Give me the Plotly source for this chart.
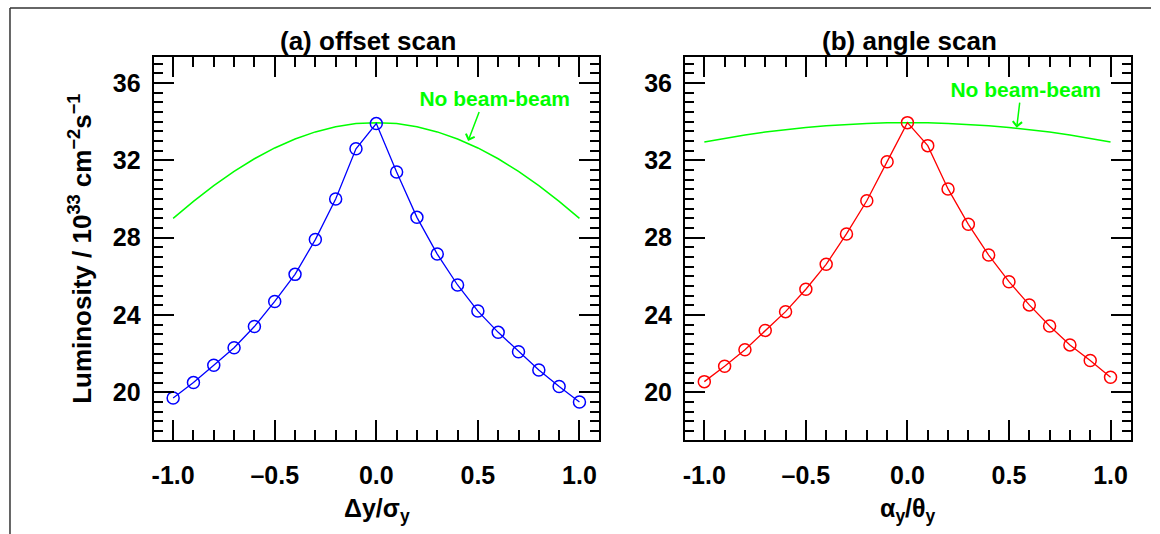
import plotly.graph_objects as go

# ---------------- data ----------------
scan_x = [-1.0, -0.9, -0.8, -0.7, -0.6, -0.5, -0.4, -0.3, -0.2, -0.1, 0.0,
          0.1, 0.2, 0.3, 0.4, 0.5, 0.6, 0.7, 0.8, 0.9, 1.0]

offset_lumi = [19.7, 20.5, 21.4, 22.3, 23.4, 24.7, 26.1, 27.9, 30.0, 32.6, 33.9,
               31.4, 29.05, 27.15, 25.55, 24.2, 23.1, 22.1, 21.15, 20.3, 19.5]
offset_nobb = [29.0, 29.88, 30.69, 31.43, 32.08, 32.64, 33.10, 33.47, 33.74, 33.90, 33.95,
               33.90, 33.74, 33.47, 33.10, 32.64, 32.08, 31.43, 30.69, 29.88, 29.0]

angle_lumi = [20.55, 21.35, 22.2, 23.2, 24.17, 25.33, 26.62, 28.19, 29.91, 31.93, 33.95,
              32.76, 30.52, 28.69, 27.1, 25.72, 24.52, 23.43, 22.45, 21.64, 20.78]
angle_nobb = [32.95, 33.14, 33.31, 33.46, 33.59, 33.70, 33.79, 33.86, 33.91, 33.94, 33.95,
              33.94, 33.91, 33.86, 33.79, 33.70, 33.59, 33.46, 33.31, 33.14, 32.95]

x_tickvals = [-1.0, -0.5, 0.0, 0.5, 1.0]
x_ticktext = ["-1.0", "\u20130.5", "0.0", "0.5", "1.0"]
y_label_vals = [20, 24, 28, 32, 36]          # labelled long ticks
y_unlabeled_vals = [18, 22, 26, 30, 34]      # long ticks without labels

panel_titles = ["(a) offset scan", "(b) angle scan"]
x_titles = ["\u0394y/\u03c3<sub>y</sub>", "\u03b1<sub>y</sub>/\u03b8<sub>y</sub>"]
y_title = "Luminosity / 10<sup>33</sup> cm<sup>\u22122</sup>s<sup>\u22121</sup>"
note_text = "No beam-beam"

# ---------------- figure ----------------
W, H = 1160, 534
FONT = "Liberation Sans, Arial, sans-serif"
BLUE, RED, GREEN = "#0000ff", "#ff0000", "#00ff00"
Y_RANGE = [17.53, 37.33]

fig = go.Figure()

fig.add_trace(go.Scatter(x=scan_x, y=offset_nobb, mode="lines", line=dict(color=GREEN, width=1.5),
                         xaxis="x", yaxis="y", showlegend=False))
fig.add_trace(go.Scatter(x=scan_x, y=offset_lumi, mode="lines+markers", line=dict(color=BLUE, width=1.3),
                         marker=dict(symbol="circle-open", size=12, color=BLUE, line=dict(width=1.5)),
                         xaxis="x", yaxis="y", showlegend=False))
fig.add_trace(go.Scatter(x=scan_x, y=angle_nobb, mode="lines", line=dict(color=GREEN, width=1.5),
                         xaxis="x2", yaxis="y2", showlegend=False))
fig.add_trace(go.Scatter(x=scan_x, y=angle_lumi, mode="lines+markers", line=dict(color=RED, width=1.3),
                         marker=dict(symbol="circle-open", size=12, color=RED, line=dict(width=1.5)),
                         xaxis="x2", yaxis="y2", showlegend=False))

tickfont = dict(family=FONT, size=25, color="black", weight="bold")


def xaxis_cfg(domain, rng, anchor):
    return dict(domain=domain, range=rng, anchor=anchor, showgrid=False, zeroline=False,
                showline=True, linecolor="black", linewidth=2, mirror="ticks",
                ticks="inside", ticklen=20, tickwidth=1.6, tickcolor="black",
                tickmode="array", tickvals=x_tickvals, ticktext=x_ticktext,
                tickfont=tickfont, ticklabelstandoff=12,
                minor=dict(tickmode="linear", tick0=0, dtick=0.1, ticks="inside", ticklen=10,
                           tickwidth=1.6, tickcolor="black"))


def yaxis_cfg(domain, anchor):
    return dict(domain=domain, range=Y_RANGE, anchor=anchor, showgrid=False, zeroline=False,
                showline=True, linecolor="black", linewidth=2, mirror="ticks",
                ticks="inside", ticklen=20, tickwidth=1.6, tickcolor="black",
                tickmode="array", tickvals=y_label_vals,
                tickfont=tickfont, ticklabelstandoff=6,
                minor=dict(tickmode="linear", tick0=0, dtick=0.5, ticks="inside", ticklen=9,
                           tickwidth=1.6, tickcolor="black"))


def yaxis_overlay_cfg(over, anchor):
    return dict(overlaying=over, anchor=anchor, side="left", range=Y_RANGE,
                showgrid=False, zeroline=False, showline=False, mirror="ticks",
                ticks="inside", ticklen=20, tickwidth=1.6, tickcolor="black",
                tickmode="array", tickvals=y_unlabeled_vals, showticklabels=False)


ydom = [1 - 440 / H, 1 - 57.3 / H]
fig.update_layout(
    width=W, height=H, autosize=False,
    margin=dict(l=0, r=0, t=0, b=0),
    paper_bgcolor="white", plot_bgcolor="white",
    xaxis=xaxis_cfg([151.9 / W, 598.4 / W], [-1.096, 1.098], "y"),
    yaxis=yaxis_cfg(ydom, "x"),
    xaxis2=xaxis_cfg([684.2 / W, 1130.8 / W], [-1.095, 1.1], "y2"),
    yaxis2=yaxis_cfg(ydom, "x2"),
    yaxis3=yaxis_overlay_cfg("y", "x"),
    yaxis4=yaxis_overlay_cfg("y2", "x2"),
)

ann = []
# panel titles
for cx, t in zip([367, 909], panel_titles):
    ann.append(dict(text=t, x=cx / W, y=1 - 41 / H, xref="paper", yref="paper", showarrow=False,
                    xanchor="center", yanchor="middle",
                    font=dict(family=FONT, size=26, color="black", weight="bold")))
# x titles
for cx, t in zip([375.2, 907.3], x_titles):
    ann.append(dict(text=t, x=cx / W, y=1 - 510 / H, xref="paper", yref="paper", showarrow=False,
                    xanchor="center", yanchor="middle",
                    font=dict(family=FONT, size=25, color="black", weight="bold")))
# y title
ann.append(dict(text=y_title, x=79 / W, y=1 - 249 / H, xref="paper", yref="paper", showarrow=False,
                textangle=-90, xanchor="center", yanchor="middle",
                font=dict(family=FONT, size=26, color="black", weight="bold")))
# green notes with arrows (text box sits above the arrow tail)
ann.append(dict(text=note_text, x=0.452, y=33.0, xref="x", yref="y", showarrow=True, ax=11, ay=-29,
                xanchor="center", yanchor="bottom", width=182, align="right",
                arrowhead=4, arrowsize=1.2, arrowwidth=1.5, arrowcolor=GREEN,
                font=dict(family=FONT, size=21, color=GREEN, weight="bold")))
ann.append(dict(text=note_text, x=0.538, y=33.69, xref="x2", yref="y2", showarrow=True, ax=3, ay=-25,
                xanchor="center", yanchor="bottom", width=163, align="right",
                arrowhead=4, arrowsize=1.2, arrowwidth=1.5, arrowcolor=GREEN,
                font=dict(family=FONT, size=21, color=GREEN, weight="bold")))
fig.update_layout(annotations=ann)

# outer frame (top and left edges visible)
fig.add_shape(type="line", xref="paper", yref="paper", x0=8 / W, x1=1151 / W, y0=1 - 8 / H, y1=1 - 8 / H,
              line=dict(color="#333333", width=1.5))
fig.add_shape(type="line", xref="paper", yref="paper", x0=8 / W, x1=8 / W, y0=1 - 8 / H, y1=0,
              line=dict(color="#333333", width=1.5))

fig.write_html("out.html")
